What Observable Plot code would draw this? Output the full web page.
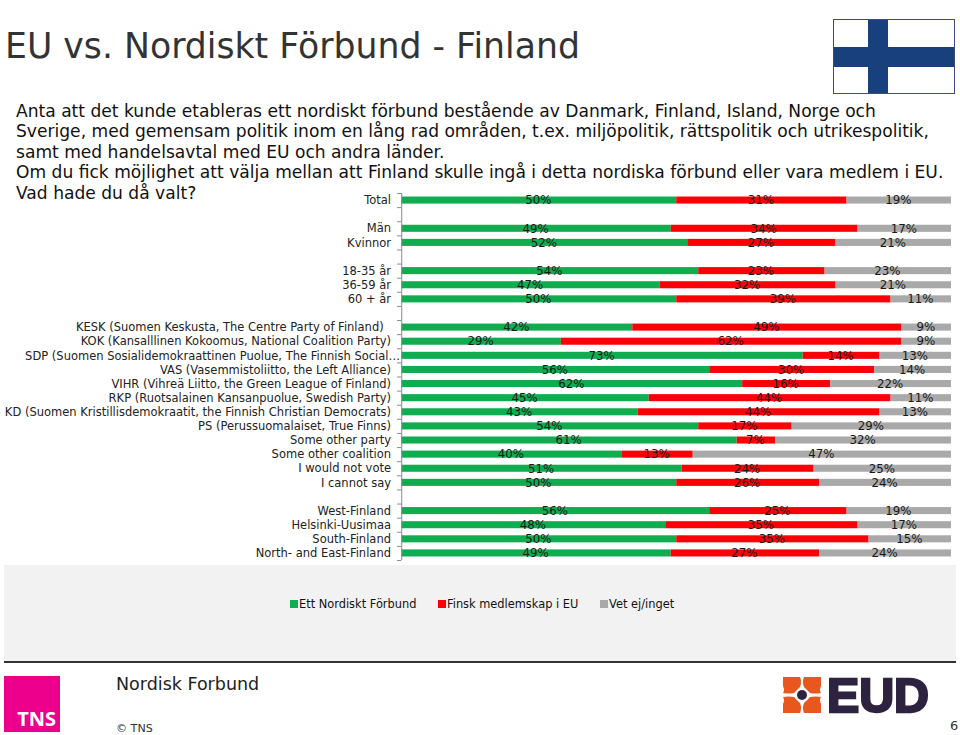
<!DOCTYPE html>
<html><head><meta charset="utf-8">
<script src="https://cdn.jsdelivr.net/npm/d3@7"></script>
<script src="https://cdn.jsdelivr.net/npm/@observablehq/plot@0.6"></script>
<style>
html,body{margin:0;padding:0;background:#fff;overflow:hidden}
#page{position:relative;width:960px;height:735px;font-family:"DejaVu Sans",sans-serif;color:#111}
#page>*{position:absolute}
#chart{left:0;top:0}
#title{left:5px;top:25px;font-size:34.7px;line-height:42px;color:#333;white-space:nowrap}
#body{left:16px;top:101px;font-size:17.1px;line-height:20.4px;white-space:nowrap;color:#111}
#panel{left:4px;top:565px;width:952px;height:96px;background:#f2f2f2}
#rule{left:4px;top:661px;width:952px;height:2px;background:#333}
#legend span.k{position:absolute;top:0;white-space:nowrap;font-size:11.4px;line-height:14px}
#legend i{position:absolute;width:8px;height:8px;top:3px}
#flag{left:833px;top:19px;width:120px;height:73px;border:1px solid #3f4a7a;background:#fff}
#flag .v{position:absolute;left:34px;top:0;width:20px;height:100%;background:#17407c}
#flag .h{position:absolute;left:0;top:27px;width:100%;height:20px;background:#17407c}
#tns{left:4px;top:676px;width:56px;height:56px;background:#ec008c}
#tns span{position:absolute;right:4px;bottom:0;color:#fff;font:bold 20px "Open Sans",sans-serif}
#fname{left:116px;top:673px;font-size:17.5px;line-height:22px;color:#222}
#copy{left:116px;top:721px;font-size:11.1px;line-height:15px;color:#333}
#pnum{left:950px;top:718px;font-size:13px;line-height:15px;color:#333}
#eud{left:780px;top:660px}
</style></head>
<body>
<div id="page">
  <div id="panel"></div><div id="rule"></div>
  <div id="chart"></div>
  <div id="title">EU vs. Nordiskt Förbund - Finland</div>
  <div id="body"></div>
  <div id="flag"><div class="v"></div><div class="h"></div></div>
  <div id="legend" style="left:0;top:597px"></div>
  <div id="tns"><span>TNS</span></div>
  <div id="fname">Nordisk Forbund</div>
  <div id="copy">© TNS</div>
  <div id="pnum">6</div>
  <svg id="eud" width="160" height="72" viewBox="0 -12 160 72">
    <g fill="#e8571e">
      <path d="M3 5H20Q22 10 20 15L14 21Q8 22 3 21Q5 18 3 14Z"/>
      <path d="M41 5H24Q22 10 24 15L30 21Q36 22 41 21Q39 18 41 14Z"/>
      <path d="M3 41H20Q22 36 20 31L14 25Q8 24 3 25Q5 28 3 32Z"/>
      <path d="M41 41H24Q22 36 24 31L30 25Q36 24 41 25Q39 28 41 32Z"/>
    </g>
    <circle cx="22" cy="23" r="7" fill="#fff"/>
    <circle cx="22" cy="23" r="5" fill="#2d2340"/>
    <text x="47" y="40" font-family="Liberation Sans" font-weight="700" font-size="48" fill="#2d2340" stroke="#2d2340" stroke-width="2.4" textLength="102" lengthAdjust="spacingAndGlyphs">EUD</text>
  </svg>
</div>
<script>
const titleLines = [
  "Anta att det kunde etableras ett nordiskt förbund bestående av Danmark, Finland, Island, Norge och",
  "Sverige, med gemensam politik inom en lång rad områden, t.ex. miljöpolitik, rättspolitik och utrikespolitik,",
  "samt med handelsavtal med EU och andra länder.",
  "Om du fick möjlighet att välja mellan att Finland skulle ingå i detta nordiska förbund eller vara medlem i EU.",
  "Vad hade du då valt?"
];
const categories = [
  "Total", " ", "Män", "Kvinnor", "  ", "18-35 år", "36-59 år", "60 + år", "   ",
  "KESK (Suomen Keskusta, The Centre Party of Finland)\u00a0\u00a0",
  "KOK (Kansalllinen Kokoomus, National Coalition Party)",
  "SDP (Suomen Sosialidemokraattinen Puolue, The Finnish Social…",
  "VAS (Vasemmistoliitto, the Left Alliance)",
  "VIHR (Vihreä Liitto, the Green League of Finland)",
  "RKP (Ruotsalainen Kansanpuolue, Swedish Party)",
  "KD (Suomen Kristillisdemokraatit, the Finnish Christian Democrats)",
  "PS (Perussuomalaiset, True Finns)",
  "Some other party", "Some other coalition", "I would not vote", "I cannot say", "    ",
  "West-Finland", "Helsinki-Uusimaa", "South-Finland", "North- and East-Finland"
];
const seriesNames = ["Ett Nordiskt Förbund", "Finsk medlemskap i EU", "Vet ej/inget"];
const seriesColors = ["#0fac50", "#fb0006", "#a9a9a9"];
const nordic = [50,null,49,52,null,54,47,50,null,42,29,73,56,62,45,43,54,61,40,51,50,null,56,48,50,49];
const eu     = [31,null,34,27,null,23,32,39,null,49,62,14,30,16,44,44,17,7,13,24,26,null,25,35,35,27];
const unsure = [19,null,17,21,null,23,21,11,null,9,9,13,14,22,11,13,29,32,47,25,24,null,19,17,15,24];

const table = [nordic, eu, unsure].flatMap((vals, s) =>
  vals.map((v, i) => ({row: categories[i], series: seriesNames[s], value: v})).filter(d => d.value != null));

const step = (560 - 193) / categories.length;
const stack = o => Plot.stackX({x: "value", y: "row", z: "series", order: seriesNames, ...o});

const plot = Plot.plot({
  width: 960, height: 735,
  marginLeft: 401.5, marginRight: 9, marginTop: 193, marginBottom: 175,
  style: {background: "transparent", fontFamily: '"DejaVu Sans",sans-serif', overflow: "visible"},
  x: {domain: [0, 100], axis: null},
  y: {domain: categories, paddingInner: 0.5, paddingOuter: 0.25, round: false, label: null},
  color: {domain: seriesNames, range: seriesColors},
  marks: [
    Plot.barX(table, stack({fill: "series"})),
    Plot.ruleX([0], {x: -0.05, stroke: "#8a8a8a", strokeWidth: 1}),
    Plot.ruleY(categories, {y: d => d, x1: -0.8, x2: -0.05, dy: -step / 2, stroke: "#8a8a8a"}),
    Plot.ruleY(categories.slice(-1), {y: d => d, x1: -0.8, x2: -0.05, dy: step / 2, stroke: "#8a8a8a"}),
    Plot.axisY({anchor: "left", tickSize: 0, tickPadding: 11, fontSize: 11.5, color: "#222", label: null,
                textOverflow: null, lineWidth: Infinity, tickFormat: d => d}),
    Plot.text(table, stack({text: d => d.value + "%", fontSize: 11.8, fill: "#1a1a1a", dx: -1}))
  ]
});
// The truncated SDP label overruns the axis gutter in the original.
d3.select(plot).selectAll("text").filter(function () { return this.textContent.startsWith("SDP"); }).attr("dx", 9);
document.getElementById("chart").append(plot);

document.getElementById("body").innerHTML = titleLines.map(l => `<div>${l}</div>`).join("");

const legendLeft = [290, 438, 600];
document.getElementById("legend").innerHTML = seriesNames.map((n, i) =>
  `<i style="left:${legendLeft[i]}px;background:${seriesColors[i]}"></i><span class="k" style="left:${legendLeft[i] + 9}px">${n}</span>`).join("");
</script>
</body></html>
